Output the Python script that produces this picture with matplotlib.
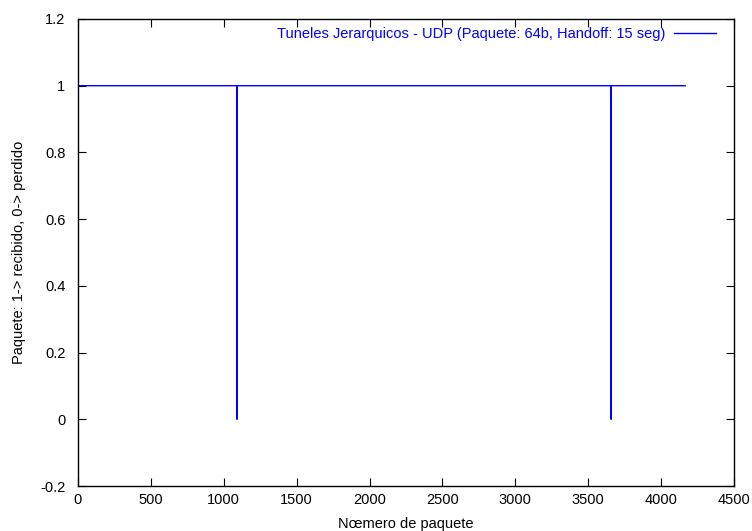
import matplotlib
matplotlib.use("Agg")
import matplotlib.pyplot as plt
import numpy as np

plt.rcParams["font.family"] = ["Liberation Sans", "DejaVu Sans"]
plt.rcParams["font.size"] = 10.5

# Packets sent and the ones that were lost
total_packets = 4165
lost_packets = [1091, 3657]
series_label = "Tuneles Jerarquicos - UDP (Paquete: 64b, Handoff: 15 seg)"

x_ticks = [0, 500, 1000, 1500, 2000, 2500, 3000, 3500, 4000, 4500]
y_ticks = [-0.2, 0, 0.2, 0.4, 0.6, 0.8, 1, 1.2]
y_tick_labels = ["-0.2", "0", "0.2", "0.4", "0.6", "0.8", "1", "1.2"]

packets = np.arange(1, total_packets + 1)
received = np.ones(total_packets)
for p in lost_packets:
    received[p - 1] = 0

fig = plt.figure(figsize=(7.52, 5.31), dpi=100)
ax = fig.add_axes([78 / 752, 1 - 486 / 531, (734 - 78) / 752, (486 - 19) / 531])

ax.plot(packets, received, color="#0000ff", lw=1, label=series_label)

ax.set_xlim(0, 4500)
ax.set_ylim(-0.2, 1.2)
ax.set_xticks(x_ticks)
ax.set_yticks(y_ticks)
ax.set_yticklabels(y_tick_labels)
ax.tick_params(direction="in", top=True, right=True, length=6, width=0.8)
ax.tick_params(axis="y", pad=9)
ax.tick_params(axis="x", pad=5)
for s in ax.spines.values():
    s.set_linewidth(1)

ax.set_xlabel("N\u0153mero de paquete", labelpad=7)
ax.set_ylabel("Paquete: 1-> recibido, 0-> perdido")
ax.yaxis.set_label_coords(-(78 - 26) / 656, 0.5)

leg = ax.legend(loc="upper right", bbox_to_anchor=(0.9817, 1 - 2 / 467),
                frameon=False, markerfirst=False, borderaxespad=0,
                handlelength=2.9, handletextpad=0.55)
for t in leg.get_texts():
    t.set_color("#0000ff")

fig.savefig("out.png", dpi=100)
